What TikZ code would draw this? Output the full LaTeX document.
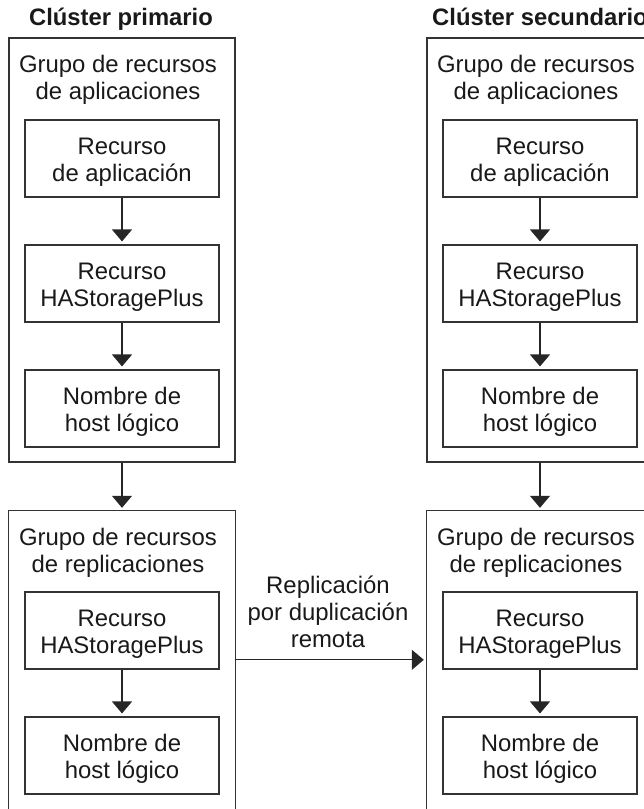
\documentclass[tikz,border=0pt]{standalone}
\usepackage{fontspec}
\setmainfont{Liberation Sans}
\usetikzlibrary{arrows.meta,calc}
\begin{document}
\begin{tikzpicture}[x=1pt,y=1pt,
  txt/.style={font=\fontsize{23.9}{27}\selectfont, align=center, inner sep=0pt, text=black!90},
  ibox/.style={txt, draw=black!80, line width=1.1pt, minimum width=194pt, minimum height=77pt,
    text height=45pt, text depth=0pt},
  gbox/.style={draw=black!80, line width=1.2pt, minimum width=226pt, inner sep=0pt},
  gline/.style={draw=black!80, line width=1.2pt},
  arr/.style={line width=1.1pt, draw=black!85, -{Triangle[width=20pt,length=12pt]}, shorten >=3pt},
  ctitle/.style={font=\bfseries\fontsize{23.8}{27}\selectfont, inner sep=0pt, anchor=base, text=black!90}]
\useasboundingbox (0,0) rectangle (644,-809);
\clip (0,0) rectangle (644,-809);

% titles
\node[ctitle] (c1) at (121,-25) {Clúster primario};
\node[ctitle] (c2) at (540,-25) {Clúster secundario};

% ---------- primary cluster ----------
\node[gbox, minimum height=424pt] (g1) at (122,-250) {};
\node[txt, anchor=north] (t1) at (118,-55) {Grupo de recursos\\de aplicaciones};
\node[ibox] (a1) at (122,-158.5) {Recurso\\de aplicación};
\node[ibox] (a2) at (122,-283.5) {Recurso\\HAStoragePlus};
\node[ibox] (a3) at (122,-408.5) {Nombre de\\host lógico};
\draw[arr] (a1) -- (a2);
\draw[arr] (a2) -- (a3);

\node[minimum width=226pt, minimum height=320pt, inner sep=0pt] (g2) at (122,-671) {};
\draw[gline] (g2.south west) -- (g2.north west) -- (g2.north east) -- (g2.south east);
\node[txt, anchor=north] (t2) at (118,-528) {Grupo de recursos\\de replicaciones};
\node[ibox] (b1) at (122,-630.5) {Recurso\\HAStoragePlus};
\node[ibox] (b2) at (122,-755.5) {Nombre de\\host lógico};
\draw[arr] (b1) -- (b2);
\draw[arr] (g1) -- (g2);

% ---------- secondary cluster ----------
\node[gbox, minimum height=424pt] (h1) at (540,-250) {};
\node[txt, anchor=north] (u1) at (536,-55) {Grupo de recursos\\de aplicaciones};
\node[ibox] (d1) at (540,-158.5) {Recurso\\de aplicación};
\node[ibox] (d2) at (540,-283.5) {Recurso\\HAStoragePlus};
\node[ibox] (d3) at (540,-408.5) {Nombre de\\host lógico};
\draw[arr] (d1) -- (d2);
\draw[arr] (d2) -- (d3);

\node[minimum width=226pt, minimum height=320pt, inner sep=0pt] (h2) at (540,-671) {};
\draw[gline] (h2.south west) -- (h2.north west) -- (h2.north east) -- (h2.south east);
\node[txt, anchor=north] (u2) at (536,-528) {Grupo de recursos\\de replicaciones};
\node[ibox] (e1) at (540,-630.5) {Recurso\\HAStoragePlus};
\node[ibox] (e2) at (540,-755.5) {Nombre de\\host lógico};
\draw[arr] (e1) -- (e2);
\draw[arr] (h1) -- (h2);

% ---------- replication ----------
\coordinate (rs) at ($(g2.north east)+(0,-149)$);
\coordinate (re) at ($(h2.north west)+(0,-149)$);
\draw[arr] (rs) -- (re);
\node[txt, anchor=north] (lbl) at (328,-576) {Replicación\\por duplicación\\remota};
\end{tikzpicture}
\end{document}
